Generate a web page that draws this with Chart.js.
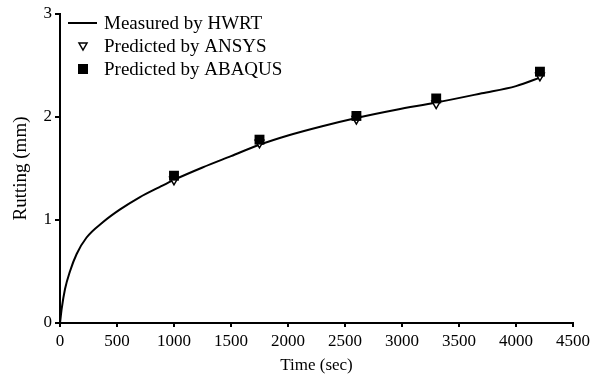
<!DOCTYPE html>
<html>
<head>
<meta charset="utf-8">
<script src="https://cdn.jsdelivr.net/npm/chart.js@4.4.0/dist/chart.umd.min.js"></script>
<style>
    html, body { margin: 0; padding: 0; background: #fff; }
    #wrap { width: 594px; height: 376px; }
</style>
</head>
<body>
<div id="wrap"><canvas id="chart" width="594" height="376"></canvas></div>
<script>
// measured curve (HWRT)
const measuredTime = [0, 15, 44, 87, 146, 233, 378, 524, 698, 873, 1000, 1250, 1500, 1750, 2000, 2300, 2600, 2950, 3300, 3700, 4000, 4230];
const measuredRut = [0, 0.14, 0.33, 0.50, 0.67, 0.83, 0.98, 1.10, 1.22, 1.32, 1.39, 1.51, 1.62, 1.73, 1.82, 1.91, 1.99, 2.07, 2.14, 2.23, 2.30, 2.39];

const predTime = [1000, 1750, 2600, 3300, 4210];
const ansysRut = [1.39, 1.75, 1.98, 2.13, 2.40];
const abaqusRut = [1.43, 1.78, 2.01, 2.18, 2.44];

const xTicks = [0, 500, 1000, 1500, 2000, 2500, 3000, 3500, 4000, 4500];
const yTicks = [0, 1, 2, 3];

const legendItems = ['Measured by HWRT', 'Predicted by ANSYS', 'Predicted by ABAQUS'];

const FONT = '"Liberation Serif", "Times New Roman", serif';

function toPoints(xs, ys) {
    return xs.map((x, i) => ({x: x, y: ys[i]}));
}

// legend drawn inside the plot, top left
const insideLegend = {
    id: 'insideLegend',
    afterDraw(chart) {
        const ctx = chart.ctx;
        const left = chart.chartArea.left;
        const top = chart.chartArea.top;
        ctx.save();
        ctx.font = '19px ' + FONT;
        ctx.fillStyle = '#000';
        ctx.textBaseline = 'middle';
        legendItems.forEach((label, i) => {
            const y = top + 9 + i * 23;
            const sx = left + 23;
            if (i === 0) {
                ctx.strokeStyle = '#000';
                ctx.lineWidth = 2;
                ctx.beginPath();
                ctx.moveTo(left + 8, y);
                ctx.lineTo(left + 37, y);
                ctx.stroke();
            } else if (i === 1) {
                ctx.strokeStyle = '#000';
                ctx.lineWidth = 1.5;
                ctx.fillStyle = '#fff';
                ctx.beginPath();
                ctx.moveTo(sx - 4, y - 3);
                ctx.lineTo(sx + 4, y - 3);
                ctx.lineTo(sx, y + 4);
                ctx.closePath();
                ctx.fill();
                ctx.stroke();
                ctx.fillStyle = '#000';
            } else {
                ctx.fillRect(sx - 5, y - 5, 10, 10);
            }
            ctx.fillText(label, left + 44, y + 1);
        });
        ctx.restore();
    }
};

const ctx = document.getElementById('chart').getContext('2d');
new Chart(ctx, {
    type: 'scatter',
    data: {
        datasets: [
            {
                label: legendItems[2],
                data: toPoints(predTime, abaqusRut),
                pointStyle: 'rect',
                pointRadius: 7,
                backgroundColor: '#000',
                borderColor: '#000',
                borderWidth: 0,
                order: 0
            },
            {
                label: legendItems[1],
                data: toPoints(predTime, ansysRut),
                pointStyle: 'triangle',
                rotation: 180,
                pointRadius: 5,
                backgroundColor: '#fff',
                borderColor: '#000',
                borderWidth: 1.5,
                order: 1
            },
            {
                type: 'line',
                label: legendItems[0],
                data: toPoints(measuredTime, measuredRut),
                borderColor: '#000',
                borderWidth: 2,
                pointRadius: 0,
                fill: false,
                cubicInterpolationMode: 'monotone',
                order: 2
            }
        ]
    },
    options: {
        responsive: false,
        animation: false,
        layout: {
            padding: {top: 14, right: 18, left: 0, bottom: 0}
        },
        plugins: {
            legend: {display: false},
            tooltip: {enabled: false}
        },
        scales: {
            x: {
                type: 'linear',
                min: 0,
                max: 4500,
                afterBuildTicks: axis => { axis.ticks = xTicks.map(v => ({value: v})); },
                afterFit: axis => { axis.height = 53; },
                border: {display: true, color: '#000', width: 2},
                grid: {display: true, drawOnChartArea: false, color: '#000', tickLength: 4, lineWidth: 2},
                ticks: {color: '#000', font: {family: FONT, size: 17}, padding: 4, maxRotation: 0,
                    callback: v => String(v)},
                title: {display: true, text: 'Time (sec)', color: '#000', font: {family: FONT, size: 17}, padding: {top: 0, bottom: 0}}
            },
            y: {
                type: 'linear',
                min: 0,
                max: 3,
                afterBuildTicks: axis => { axis.ticks = yTicks.map(v => ({value: v})); },
                afterFit: axis => { axis.width = 60; },
                border: {display: true, color: '#000', width: 2},
                grid: {display: true, drawOnChartArea: false, color: '#000', tickLength: 5, lineWidth: 2},
                ticks: {color: '#000', font: {family: FONT, size: 17}, padding: 3,
                    callback: v => String(v)},
                title: {display: true, text: 'Rutting (mm)', color: '#000', font: {family: FONT, size: 19}, padding: {top: 10, bottom: 4}}
            }
        }
    },
    plugins: [insideLegend]
});
</script>
</body>
</html>
